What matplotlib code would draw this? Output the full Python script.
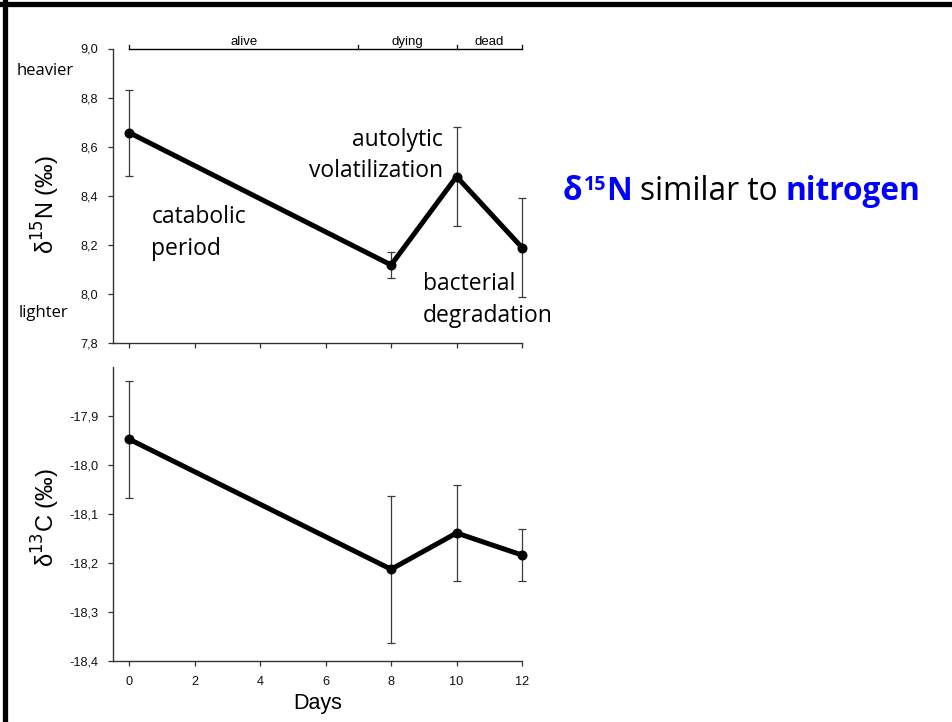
import matplotlib
matplotlib.use("Agg")
import matplotlib.pyplot as plt
from matplotlib.lines import Line2D
from matplotlib.ticker import FixedLocator, FuncFormatter

# ---- data -------------------------------------------------------------
days = [0, 8, 10, 12]
d15n = [8.657, 8.118, 8.478, 8.189]
d15n_err = [0.175, 0.053, 0.201, 0.200]
d13c = [-17.948, -18.213, -18.139, -18.184]
d13c_err = [0.119, 0.150, 0.097, 0.053]

phase_bounds = [0, 7, 10, 12]
phase_names = ["alive", "dying", "dead"]

n_ticks = [7.8, 8.0, 8.2, 8.4, 8.6, 8.8, 9.0]
c_ticks = [-18.4, -18.3, -18.2, -18.1, -18.0, -17.9]
day_ticks = [0, 2, 4, 6, 8, 10, 12]

# ---- styling ----------------------------------------------------------
W, H = 953, 722
AX_FONT = ["Liberation Sans", "DejaVu Sans"]
NOTE_FONT = ["Open Sans", "DejaVu Sans"]
SPINE = "#333333"

plt.rcParams["font.family"] = AX_FONT

fig = plt.figure(figsize=(W / 100, H / 100), dpi=100)
fig.patch.set_facecolor("white")


def px(x, y):
    """pixel position (from top-left) -> figure fraction"""
    return x / W, 1 - y / H


comma = FuncFormatter(lambda v, _: f"{v:.1f}".replace(".", ","))


def style_axes(ax):
    for s in ("top", "right"):
        ax.spines[s].set_visible(False)
    for s in ("left", "bottom"):
        ax.spines[s].set_color(SPINE)
        ax.spines[s].set_linewidth(1.0)
    ax.tick_params(direction="out", length=3.5, width=0.9, color=SPINE,
                   labelsize=9.2, labelcolor="#111111")
    ax.tick_params(axis="y", pad=7)
    ax.tick_params(axis="x", pad=7)
    ax.set_xlim(-0.5, 12)
    ax.xaxis.set_major_locator(FixedLocator(day_ticks))


def draw_series(ax, y, err):
    ax.errorbar(days, y, yerr=err, fmt="none", ecolor="#3a3a3a",
                elinewidth=0.9, capsize=3.2, capthick=0.9, clip_on=False,
                zorder=2)
    ax.plot(days, y, color="black", lw=3.6, marker="o", ms=6.2,
            solid_joinstyle="miter", clip_on=False, zorder=3)


# ---- upper panel: delta 15N -------------------------------------------
ax1 = fig.add_axes([113 / W, 1 - 343 / H, 409 / W, 294.5 / H])
style_axes(ax1)
ax1.set_ylim(7.8, 9.0)
ax1.yaxis.set_major_locator(FixedLocator(n_ticks))
ax1.yaxis.set_major_formatter(comma)
ax1.tick_params(axis="x", labelbottom=False)
draw_series(ax1, d15n, d15n_err)
ax1.set_ylabel(r"δ$^{15}$N (‰)", fontsize=17)
ax1.yaxis.set_label_coords(-0.125, 0.47)

# phase bracket along the top
top = n_ticks[-1]
ax1.plot([phase_bounds[0], phase_bounds[-1]], [top, top], color="black",
         lw=1.0, clip_on=False)
for b in phase_bounds:
    ax1.plot([b, b], [top, top + 0.013], color="black", lw=0.9,
             clip_on=False)
for a, b, name in zip(phase_bounds[:-1], phase_bounds[1:], phase_names):
    ax1.text((a + b) / 2, top + 0.013, name, ha="center", va="baseline",
             fontsize=9.5, color="black")

# process annotations
note_kw = dict(fontsize=16.5, family=NOTE_FONT, color="black", va="baseline")
ax1.text(0.67, 8.288, "catabolic", ha="left", **note_kw)
ax1.text(0.67, 8.159, "period", ha="left", **note_kw)
ax1.text(9.59, 8.604, "autolytic", ha="right", **note_kw)
ax1.text(9.59, 8.477, "volatilization", ha="right", **note_kw)
ax1.text(8.98, 8.016, "bacterial", ha="left", **note_kw)
ax1.text(8.98, 7.887, "degradation", ha="left", **note_kw)

# ---- lower panel: delta 13C -------------------------------------------
ax2 = fig.add_axes([113 / W, 1 - 661 / H, 409 / W, 294.3 / H])
style_axes(ax2)
ax2.set_ylim(-18.4, -17.8)
ax2.yaxis.set_major_locator(FixedLocator(c_ticks))
ax2.yaxis.set_major_formatter(comma)
draw_series(ax2, d13c, d13c_err)
ax2.set_ylabel(r"δ$^{13}$C (‰)", fontsize=17)
ax2.yaxis.set_label_coords(-0.125, 0.486)

fig.text(*px(318, 703), "Days", ha="center", va="center", fontsize=15.5)

# heavier / lighter hints
fig.text(*px(17, 75), "heavier", ha="left", va="baseline", fontsize=12,
         family=NOTE_FONT)
fig.text(*px(19, 317), "lighter", ha="left", va="baseline", fontsize=12,
         family=NOTE_FONT)

# ---- headline: mixed colours and weights ------------------------------
BLUE = "#0000ff"
renderer = fig.canvas.get_renderer()
size = 22.8
probe_a = fig.text(0, 0, "aa", fontsize=size, family=NOTE_FONT)
probe_b = fig.text(0, 0, "a a", fontsize=size, family=NOTE_FONT)
space = (probe_b.get_window_extent(renderer).width
         - probe_a.get_window_extent(renderer).width)
probe_a.remove()
probe_b.remove()

pieces = [
    ("δ", dict(color=BLUE, fontweight="bold", fontsize=size), 0, 1),
    ("15", dict(color=BLUE, fontweight="bold", fontsize=size * 0.62), 10, 0),
    ("N", dict(color=BLUE, fontweight="bold", fontsize=size), 0, space),
    ("similar to", dict(color="black", fontsize=size), 0, space),
    ("nitrogen", dict(color=BLUE, fontweight="bold", fontsize=size), 0, 0),
]
x = 563
for text, kw, rise, gap in pieces:
    t = fig.text(*px(x, 200 - rise), text, ha="left", va="baseline",
                 family=NOTE_FONT, **kw)
    x += t.get_window_extent(renderer).width + gap

# ---- slide frame (top and left edges) ---------------------------------
fig.add_artist(Line2D([0, 1], [1 - 4 / H, 1 - 4 / H], color="black",
                      lw=3.8, transform=fig.transFigure))
fig.add_artist(Line2D([5 / W, 5 / W], [0, 1 - 2 / H], color="black",
                      lw=3.8, transform=fig.transFigure))

fig.savefig("out.png", dpi=100, facecolor="white")
